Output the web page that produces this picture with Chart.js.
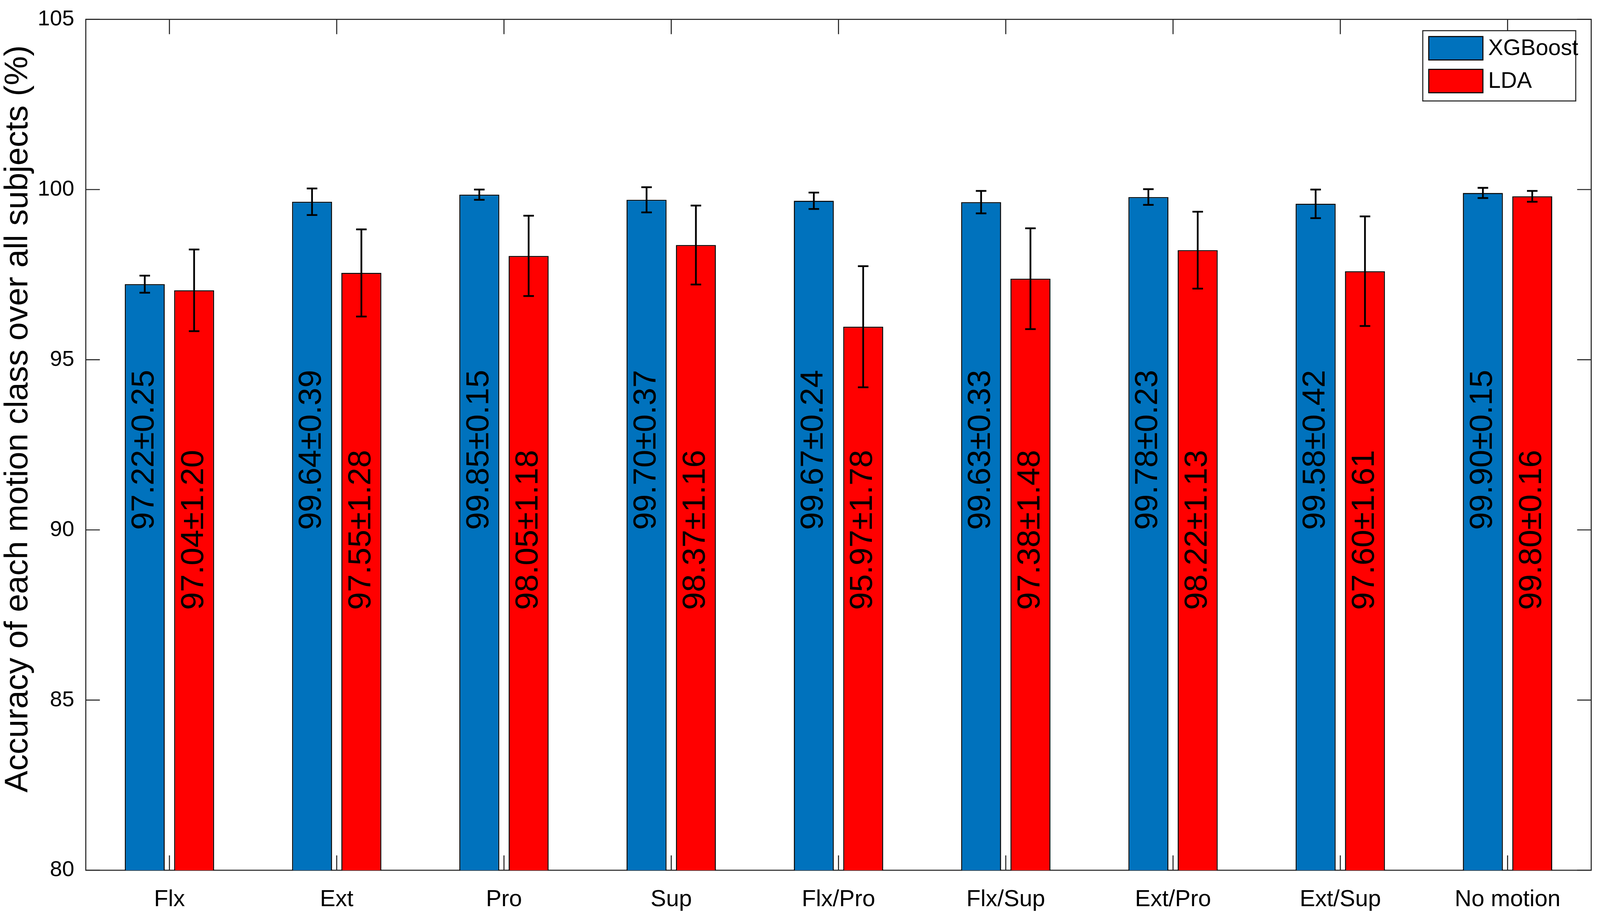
<!DOCTYPE html>
<html>
<head>
<meta charset="utf-8">
<script src="https://cdn.jsdelivr.net/npm/chart.js@4.4.1/dist/chart.umd.min.js"></script>
<style>
  html, body { margin: 0; padding: 0; background: #fff; overflow: hidden; }
  #wrap { position: relative; width: 100vw; height: 100vh; }
</style>
</head>
<body>
<div id="wrap"><canvas id="chart"></canvas></div>
<script>
// data (mean ± sd, %)
const motions = ['Flx', 'Ext', 'Pro', 'Sup', 'Flx/Pro', 'Flx/Sup', 'Ext/Pro', 'Ext/Sup', 'No motion'];
const xgbMean = [97.22, 99.64, 99.85, 99.70, 99.67, 99.63, 99.78, 99.58, 99.90];
const xgbSd   = [0.25, 0.39, 0.15, 0.37, 0.24, 0.33, 0.23, 0.42, 0.15];
const ldaMean = [97.04, 97.55, 98.05, 98.37, 95.97, 97.38, 98.22, 97.60, 99.80];
const ldaSd   = [1.20, 1.28, 1.18, 1.16, 1.78, 1.48, 1.13, 1.61, 0.16];
const yMin = 80, yMax = 105, yStep = 5;
const labelAnchor = 90; // value at which the rotated labels sit
const yTitle = 'Accuracy of each motion class over all subjects (%)';

const FONT = 'Arial, "Liberation Sans", sans-serif';
const axisColor = '#262626';
// sizes were measured on the 4550x2359 figure, window may differ
const kx = window.innerWidth / 4550;
const ky = window.innerHeight / 2359;
const px = v => v * kx;
const py = v => v * ky;

const sdList = [xgbSd, ldaSd];

const framePlugin = {
  id: 'frame',
  beforeDatasetsDraw(chart) {
    const { ctx, chartArea: a, scales: { x, y } } = chart;
    ctx.save();
    ctx.strokeStyle = axisColor;
    ctx.lineWidth = px(3);
    // inward ticks (under the bars, like matlab)
    ctx.beginPath();
    y.ticks.forEach((t, i) => {
      const yy = y.getPixelForTick(i);
      ctx.moveTo(a.left, yy); ctx.lineTo(a.left + px(40), yy);
      ctx.moveTo(a.right, yy); ctx.lineTo(a.right - px(40), yy);
    });
    x.ticks.forEach((t, i) => {
      const xx = x.getPixelForTick(i);
      ctx.moveTo(xx, a.bottom); ctx.lineTo(xx, a.bottom - py(38));
      ctx.moveTo(xx, a.top); ctx.lineTo(xx, a.top + py(38));
    });
    ctx.stroke();
    ctx.strokeRect(a.left, a.top, a.right - a.left, a.bottom - a.top);
    ctx.restore();
  },
  afterDatasetsDraw(chart) {
    const { ctx, scales: { y } } = chart;
    ctx.save();
    chart.data.datasets.forEach((ds, di) => {
      const meta = chart.getDatasetMeta(di);
      meta.data.forEach((bar, i) => {
        const m = ds.data[i], s = sdList[di][i];
        const top = y.getPixelForValue(m + s);
        const bot = y.getPixelForValue(m - s);
        const cap = px(15);
        ctx.strokeStyle = '#000';
        ctx.lineWidth = px(5);
        ctx.beginPath();
        ctx.moveTo(bar.x, top); ctx.lineTo(bar.x, bot);
        ctx.moveTo(bar.x - cap, top); ctx.lineTo(bar.x + cap, top);
        ctx.moveTo(bar.x - cap, bot); ctx.lineTo(bar.x + cap, bot);
        ctx.stroke();

        // rotated value label
        ctx.save();
        ctx.translate(bar.x, y.getPixelForValue(labelAnchor));
        ctx.rotate(-Math.PI / 2);
        ctx.fillStyle = '#000';
        ctx.font = py(82) + 'px ' + FONT;
        ctx.textAlign = di === 0 ? 'left' : 'center';
        ctx.textBaseline = 'middle';
        ctx.fillText(m.toFixed(2) + '\u00b1' + s.toFixed(2), 0, 0);
        ctx.restore();
      });
    });
    ctx.restore();
  },
  afterDraw(chart) {
    const { ctx, chartArea: a } = chart;

    // y axis title, sits a bit above the axes centre in the original
    ctx.save();
    ctx.translate(px(52), py(1073));
    ctx.rotate(-Math.PI / 2);
    ctx.fillStyle = '#000';
    ctx.font = py(84) + 'px ' + FONT;
    ctx.textAlign = 'center';
    ctx.textBaseline = 'middle';
    ctx.fillText(yTitle, 0, 0);
    ctx.restore();

    // legend box, top right inside the axes
    const w = px(435), h = py(180);
    const bx = a.right - px(44) - w, by = a.top + py(29);
    ctx.save();
    ctx.fillStyle = '#fff';
    ctx.fillRect(bx, by, w, h);
    ctx.strokeStyle = axisColor;
    ctx.lineWidth = px(3);
    ctx.strokeRect(bx, by, w, h);
    ctx.font = px(64) + 'px ' + FONT;
    ctx.textBaseline = 'middle';
    chart.data.datasets.forEach((ds, i) => {
      const sy = by + py(15) + i * py(84);
      const sh = py(60);
      ctx.fillStyle = ds.backgroundColor;
      ctx.fillRect(bx + px(17), sy, px(154), sh);
      ctx.strokeStyle = '#000';
      ctx.lineWidth = px(3);
      ctx.strokeRect(bx + px(17), sy, px(154), sh);
      ctx.fillStyle = '#000';
      ctx.fillText(ds.label, bx + px(186), sy + sh / 2 + py(2));
    });
    ctx.restore();
  }
};

new Chart(document.getElementById('chart'), {
  type: 'bar',
  data: {
    labels: motions,
    datasets: [
      {
        label: 'XGBoost',
        data: xgbMean,
        backgroundColor: '#0072BD',
        borderColor: '#000',
        borderWidth: px(3),
        categoryPercentage: 0.59,
        barPercentage: 0.81
      },
      {
        label: 'LDA',
        data: ldaMean,
        backgroundColor: '#FF0000',
        borderColor: '#000',
        borderWidth: px(3),
        categoryPercentage: 0.59,
        barPercentage: 0.81
      }
    ]
  },
  options: {
    responsive: true,
    maintainAspectRatio: false,
    animation: false,
    layout: { padding: { top: py(35), right: px(25), left: 0, bottom: 0 } },
    plugins: {
      legend: { display: false },
      tooltip: { enabled: false }
    },
    scales: {
      x: {
        grid: { display: false },
        border: { display: false },
        ticks: {
          color: '#000',
          font: { family: FONT, size: px(66) },
          padding: py(32),
          maxRotation: 0
        },
        afterFit(s) { s.height = py(130); }
      },
      y: {
        min: yMin,
        max: yMax,
        grid: { display: false },
        border: { display: false },
        ticks: {
          stepSize: yStep,
          color: '#000',
          font: { family: FONT, size: py(56), lineHeight: 1 },
          padding: px(24)
        },
        title: { display: false },
        afterFit(s) { s.width = px(244); }
      }
    }
  },
  plugins: [framePlugin]
});
</script>
</body>
</html>
